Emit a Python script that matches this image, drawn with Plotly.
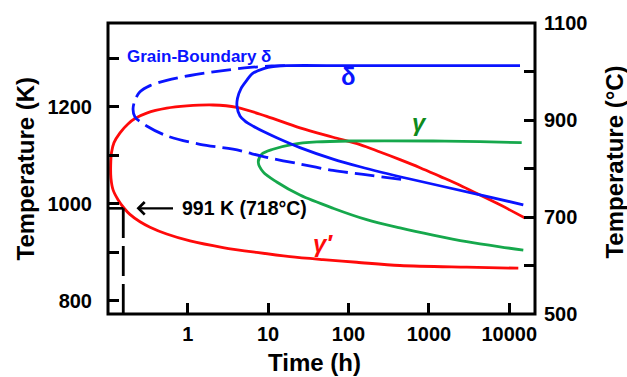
import plotly.graph_objects as go

# ---- transformation curves: time (h) and temperature (K) along each C-curve ----
gpp_time = [12940, 2952, 437, 126.5, 48.2, 18.7, 7.21, 2.75, 1.07, 0.548, 0.340, 0.255,
            0.191, 0.161, 0.136, 0.118, 0.111, 0.1102, 0.1128, 0.1211, 0.1439, 0.1808,
            0.221, 0.309, 0.548, 0.972, 2.06, 4.07, 9.61, 24.9, 64.2, 139, 246.5, 437,
            775, 1374, 2437, 4323, 7657, 15680]
gpp_temp = [867.6, 869.6, 873.1, 879.8, 885.2, 891.3, 900.0, 910.2, 923.8, 938.0, 952.1, 963.3,
            978.5, 991.7, 1008.9, 1029.2, 1053.5, 1079.8, 1106.2, 1126.5, 1146.7, 1165.0,
            1176.1, 1187.3, 1197.4, 1202.1, 1204.1, 1199.4, 1180.6, 1156.9, 1137.6, 1122.4,
            1107.2, 1091.4, 1074.8, 1056.9, 1038.7, 1018.4, 998.2, 971.0]

delta_time = [13590, 1000, 100, 17.0, 12.2, 8.64, 6.31, 5.42, 4.60, 4.16, 4.10, 4.47, 5.16,
              6.55, 8.89, 12.8, 24.9, 64.2, 139, 582, 4323, 14930]
delta_temp = [1285.2, 1285.2, 1285.2, 1285.2, 1283.5, 1278.5, 1268.3, 1254.8, 1237.9, 1217.7,
              1201.5, 1181.2, 1171.0, 1160.3, 1148.8, 1136.6, 1116.3, 1092.6, 1076.8, 1051.5,
              1019.0, 998.2]

gbd_time = [16.2, 11.1, 5.96, 2.75, 1.07, 0.548, 0.340, 0.255, 0.221, 0.209, 0.221, 0.309,
            0.548, 1.42, 3.66, 9.61, 24.9, 64.2, 153, 554]
gbd_temp = [1285.2, 1284.6, 1281.5, 1275.0, 1264.9, 1254.8, 1244.0, 1231.2, 1214.2, 1195.4,
            1179.2, 1160.9, 1140.6, 1123.0, 1112.9, 1096.0, 1082.5, 1069.1, 1061.0, 1048.8]

gam_time = [14260, 4323, 1125, 104.4, 40.2, 20.4, 11.5, 8.33, 7.55, 8.72, 12.8, 24.9, 64.2,
            168.3, 437, 1125, 2952, 7657, 14930]
gam_temp = [1126.5, 1128.5, 1129.9, 1129.9, 1127.9, 1123.0, 1112.9, 1102.7, 1085.9, 1065.6,
            1045.4, 1018.4, 991.3, 967.7, 950.7, 935.9, 922.3, 911.6, 904.9]

# reference point: curve nose crossing
ref_time = 0.158
ref_temp_k = 991
ref_temp_c = 718

# axis ticks
x_ticks = [1, 10, 100, 1000, 10000]
k_ticks = [800, 900, 1000, 1100, 1200, 1300]
k_ticktext = ["800", "", "1000", "", "1200", ""]
c_ticks = [500, 600, 700, 800, 900, 1000, 1100]
c_ticktext = ["500", "", "700", "", "900", "", "1100"]

X_RANGE = [-0.9913, 4.3196]         # log10(hours)
C_RANGE = [500, 1100]
K_RANGE = [C_RANGE[0] + 273.15, C_RANGE[1] + 273.15]

FONT = "Liberation Sans, Arial, sans-serif"
RED = "#ff0a0a"
BLUE = "#0a14ff"
GREEN = "#16a84c"
DKGREEN = "#0f8a1c"

W, H = 627, 377
ML, MR, MT, MB = 108, 92, 18, 63
PW, PH = W - ML - MR, H - MT - MB


def px_x(p):
    return (p - ML) / PW


def px_y(p):
    return (H - MB - p) / PH


fig = go.Figure()

curve_style = dict(mode="lines", line_shape="spline", showlegend=False, hoverinfo="skip")
fig.add_trace(go.Scatter(x=gpp_time, y=gpp_temp, line=dict(color=RED, width=2.8, smoothing=0.9), **curve_style))
fig.add_trace(go.Scatter(x=gam_time, y=gam_temp, line=dict(color=GREEN, width=2.8, smoothing=0.9), **curve_style))
fig.add_trace(go.Scatter(x=delta_time, y=delta_temp, line=dict(color=BLUE, width=2.8, smoothing=0.9), **curve_style))
fig.add_trace(go.Scatter(x=gbd_time, y=gbd_temp,
                         line=dict(color=BLUE, width=2.8, dash="20px,7px", smoothing=0.9), **curve_style))

# 991 K marker lines
fig.add_trace(go.Scatter(x=[10 ** X_RANGE[0], ref_time], y=[ref_temp_k, ref_temp_k], mode="lines",
                         line=dict(color="black", width=2.6), showlegend=False, hoverinfo="skip"))
fig.add_trace(go.Scatter(x=[ref_time, ref_time], y=[K_RANGE[0], ref_temp_k], mode="lines",
                         line=dict(color="black", width=2.8, dash="30px,8px"), showlegend=False,
                         hoverinfo="skip"))

# invisible trace to activate the right-hand °C axis
fig.add_trace(go.Scatter(x=[1], y=[800], yaxis="y2", mode="markers", marker=dict(opacity=0),
                         showlegend=False, hoverinfo="skip"))

tick_font = dict(family=FONT, size=20, color="black", weight="bold")

fig.update_layout(
    width=W, height=H,
    margin=dict(l=ML, r=MR, t=MT, b=MB, pad=0),
    paper_bgcolor="white", plot_bgcolor="white",
    xaxis=dict(type="log", range=X_RANGE, tickvals=x_ticks, ticktext=[str(v) for v in x_ticks],
               ticks="inside", ticklen=11, tickwidth=2.8, tickcolor="black",
               showgrid=False, zeroline=False, showline=False, tickfont=tick_font,
               ticklabelstandoff=6),
    yaxis=dict(range=K_RANGE, tickvals=k_ticks, ticktext=k_ticktext,
               ticks="inside", ticklen=11, tickwidth=2.8, tickcolor="black",
               showgrid=False, zeroline=False, showline=False, tickfont=tick_font,
               ticklabelstandoff=15),
    yaxis2=dict(range=C_RANGE, overlaying="y", side="right", tickvals=c_ticks, ticktext=c_ticktext,
                ticks="inside", ticklen=11, tickwidth=2.8, tickcolor="black",
                showgrid=False, zeroline=False, showline=False, tickfont=tick_font,
                ticklabelstandoff=8),
    shapes=[dict(type="rect", xref="paper", yref="paper", x0=0, x1=1, y0=0, y1=1,
                 line=dict(color="black", width=3), layer="above")],
)

title_font = dict(family=FONT, size=24, color="black", weight="bold")
annotations = [
    dict(text="Temperature (K)", xref="paper", yref="paper", x=px_x(25), y=px_y(166),
         textangle=-90, showarrow=False, font=title_font, xanchor="center", yanchor="middle"),
    dict(text="Temperature (°C)", xref="paper", yref="paper", x=px_x(615), y=px_y(160),
         textangle=-90, showarrow=False, font=title_font, xanchor="center", yanchor="middle"),
    dict(text="Time (h)", xref="paper", yref="paper", x=px_x(314), y=px_y(363),
         showarrow=False, font=title_font, xanchor="center", yanchor="middle"),
    # curve labels
    dict(text="Grain-Boundary δ", x=-0.78, y=1305, xref="x", yref="y", showarrow=False,
         xanchor="left", yanchor="middle", font=dict(family=FONT, size=17, color=BLUE, weight="bold")),
    dict(text="δ", x=2.0, y=1263, xref="x", yref="y", showarrow=False,
         xanchor="center", yanchor="middle", font=dict(family=FONT, size=24, color=BLUE, weight="bold")),
    dict(text="<i>γ</i>", x=2.889, y=1167, xref="x", yref="y", showarrow=False,
         xanchor="center", yanchor="middle", font=dict(family=FONT, size=24, color=DKGREEN, weight="bold")),
    dict(text="<i>γ′</i>", x=1.683, y=918, xref="x", yref="y", showarrow=False,
         xanchor="center", yanchor="middle", font=dict(family=FONT, size=24, color=RED, weight="bold")),
    # reference label and arrow
    dict(text=f"{ref_temp_k} K ({ref_temp_c}°C)", x=-0.095, y=ref_temp_k, xref="x", yref="y",
         showarrow=False, xanchor="left", yanchor="middle",
         font=dict(family=FONT, size=19.5, color="black", weight="bold")),
    dict(text="", x=-0.637, y=ref_temp_k, xref="x", yref="y", showarrow=True,
         ax=38, ay=0, axref="pixel", ayref="pixel", arrowhead=4, arrowsize=1.1,
         arrowwidth=2.2, arrowcolor="black", standoff=0),
]
fig.update_layout(annotations=annotations)

fig.write_html("out.html")
